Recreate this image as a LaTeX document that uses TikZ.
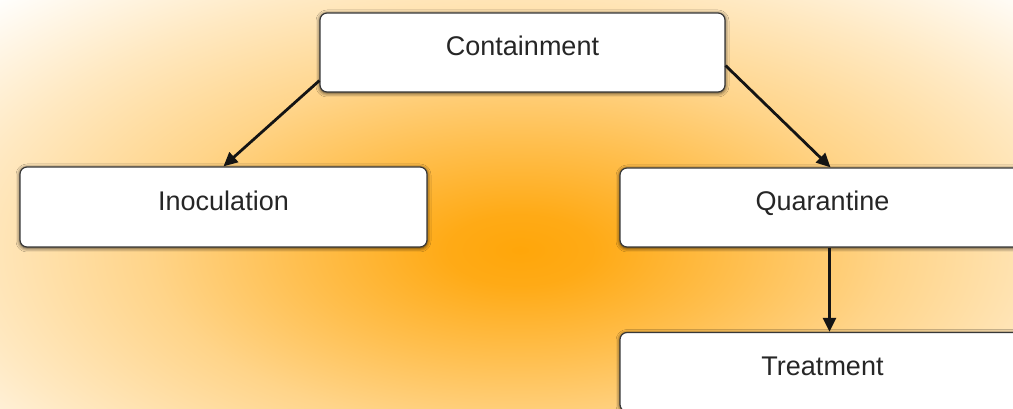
\documentclass[tikz,border=0pt]{standalone}
\usepackage{fontspec}
\setmainfont{Liberation Sans}
\usetikzlibrary{arrows.meta,shadows.blur}
\definecolor{glow}{RGB}{255,166,10}
\colorlet{glowA}{glow!95!white}
\colorlet{glowB}{glow!72!white}
\colorlet{glowC}{glow!48!white}
\colorlet{glowD}{glow!25!white}
\pgfdeclareradialshading{bgglow}{\pgfpoint{0bp}{0bp}}{color(0bp)=(glow); color(2.5bp)=(glowA); color(7.5bp)=(glowB); color(12.5bp)=(glowC); color(18.75bp)=(glowD); color(25bp)=(white); color(50bp)=(white)}
\begin{document}
\begin{tikzpicture}[x=1pt,y=1pt,
  box/.style={draw=black!78, line width=1.2pt, fill=white, rounded corners=7pt,
    minimum width=405pt, minimum height=79pt, inner sep=0pt,
    text height=19pt, text depth=12pt, font=\fontsize{27}{30}\selectfont, text=black!85,
    blur shadow={shadow xshift=0pt, shadow yshift=-1pt, shadow blur radius=4pt, shadow opacity=85}},
  arr/.style={-{Triangle[length=14pt,width=13pt]}, line width=2.8pt, draw=black!92}]
\useasboundingbox (0,0) rectangle (1013,409);
\begin{scope}
  \clip (0,0) rectangle (1013,409);
  \fill[white] (0,0) rectangle (1013,409);
  \shade[shading=bgglow] (-220,-201) rectangle (1260,519);
\end{scope}
\node[box] (cont) at (522.5,356.5) {Containment};
\node[box, minimum width=407pt, minimum height=80pt] (inoc) at (223.5,202) {Inoculation};
\node[box] (quar) at (822.5,201.5) {Quarantine};
\node[box] (treat) at (822.5,37) {Treatment};
\draw[arr] ([yshift=12pt]cont.south west) -- (inoc.north);
\draw[arr] ([yshift=27pt]cont.south east) -- ([xshift=8pt]quar.north);
\draw[arr] ([xshift=7pt]quar.south) -- ([xshift=7pt]treat.north);
\end{tikzpicture}
\end{document}
